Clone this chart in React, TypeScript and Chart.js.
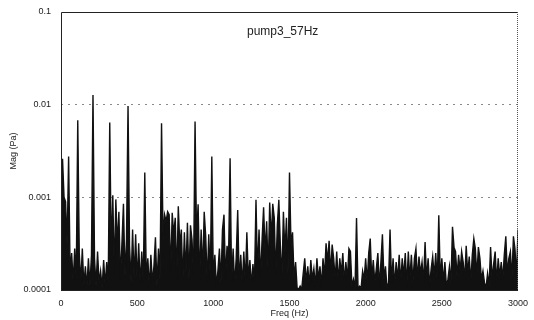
import React, { useEffect, useRef } from "react";
import { Chart, registerables } from "chart.js";

Chart.register(...registerables);

const TITLE = "pump3_57Hz";
const X_TITLE = "Freq (Hz)";
const Y_TITLE = "Mag (Pa)";
const FREQ_BIN_HZ = 10;
const X_TICKS = [0, 500, 1000, 1500, 2000, 2500, 3000];
const Y_TICKS = [0.0001, 0.001, 0.01, 0.1];
const Y_TICK_LABELS = ["0.0001", "0.001", "0.01", "0.1"];
const Y_GRID_DASHED = [0.001, 0.01];

// Magnitude (Pa), one value per 10 Hz bin, 0 .. 3000 Hz
const MAG_PA = [
  // 0-90
  11e-4, 26e-4, 10e-4, 9e-4, 3e-4, 27.5e-4, 1.5e-4, 2.5e-4, 1.2e-4, 2.8e-4,
  // 100-190
  1.3e-4, 68e-4, 2.5e-4, 1.2e-4, 2.8e-4, 1.1e-4, 1.8e-4, 1.05e-4, 2.2e-4, 1.1e-4,
  // 200-290
  2.4e-4, 127e-4, 2.2e-4, 1.1e-4, 2.6e-4, 1.2e-4, 1.6e-4, 1.05e-4, 2.1e-4, 1.1e-4,
  // 300-390
  2.0e-4, 1.2e-4, 64e-4, 2.4e-4, 10.5e-4, 1.5e-4, 9.5e-4, 3e-4, 7e-4, 1.3e-4,
  // 400-490
  3.2e-4, 8.5e-4, 1.4e-4, 3.5e-4, 97e-4, 3.0e-4, 1.2e-4, 4.5e-4, 1.3e-4, 4e-4,
  // 500-590
  1.2e-4, 3.2e-4, 1.1e-4, 2.6e-4, 1.2e-4, 18.5e-4, 1.3e-4, 2.2e-4, 1.05e-4, 2.4e-4,
  // 600-690
  1.2e-4, 1.8e-4, 3.7e-4, 1.1e-4, 2.8e-4, 1.3e-4, 63e-4, 3.5e-4, 6.5e-4, 5.5e-4,
  // 700-790
  7e-4, 6.5e-4, 1.5e-4, 6.8e-4, 4e-4, 6e-4, 1.3e-4, 8e-4, 3e-4, 4.5e-4,
  // 800-890
  1.2e-4, 4.2e-4, 1.5e-4, 5.3e-4, 1.3e-4, 5e-4, 3.5e-4, 1.4e-4, 66e-4, 3.5e-4,
  // 900-990
  8.4e-4, 1.3e-4, 4.5e-4, 1.5e-4, 7e-4, 3.8e-4, 1.2e-4, 4e-4, 1.3e-4, 27.5e-4,
  // 1000-1090
  1.3e-4, 2.4e-4, 1.1e-4, 1.6e-4, 2.8e-4, 1.2e-4, 4.5e-4, 6.5e-4, 1.3e-4, 3e-4,
  // 1100-1190
  2.2e-4, 26.4e-4, 1.2e-4, 2.8e-4, 1.1e-4, 2.2e-4, 7.3e-4, 1.2e-4, 2.4e-4, 1.1e-4,
  // 1200-1290
  2.6e-4, 1.2e-4, 4.2e-4, 1.3e-4, 2.1e-4, 1.1e-4, 1.9e-4, 1.2e-4, 9.4e-4, 1.5e-4,
  // 1300-1390
  4.5e-4, 1.3e-4, 3.5e-4, 7.8e-4, 2.5e-4, 5.5e-4, 1.5e-4, 8.8e-4, 3.5e-4, 8.5e-4,
  // 1400-1490
  6e-4, 1.4e-4, 5e-4, 9.4e-4, 3e-4, 1.3e-4, 7e-4, 2.5e-4, 6e-4, 1.5e-4,
  // 1500-1590
  18.5e-4, 3e-4, 4.2e-4, 1.3e-4, 2e-4, 1.05e-4, 1.02e-4, 1.1e-4, 1.02e-4, 1.5e-4,
  // 1600-1690
  2.2e-4, 1.2e-4, 1.8e-4, 1.1e-4, 2.1e-4, 1.3e-4, 1.7e-4, 1.1e-4, 2.2e-4, 1.3e-4,
  // 1700-1790
  1.8e-4, 1.1e-4, 2.2e-4, 1.4e-4, 3.2e-4, 2e-4, 3.4e-4, 1.5e-4, 3.1e-4, 2.2e-4,
  // 1800-1890
  1.3e-4, 2.6e-4, 1.2e-4, 2.2e-4, 1.5e-4, 2.5e-4, 1.2e-4, 2.0e-4, 1.3e-4, 2.8e-4,
  // 1900-1990
  2.6e-4, 1.1e-4, 1.3e-4, 1.02e-4, 6e-4, 1.02e-4, 1.1e-4, 1.05e-4, 1.6e-4, 1.3e-4,
  // 2000-2090
  2.2e-4, 1.2e-4, 2.5e-4, 3.6e-4, 1.3e-4, 2.1e-4, 1.2e-4, 1.7e-4, 2.5e-4, 1.1e-4,
  // 2100-2190
  2e-4, 4e-4, 1.3e-4, 1.8e-4, 1.05e-4, 1.2e-4, 4.5e-4, 1.2e-4, 2.2e-4, 1.1e-4,
  // 2200-2290
  2e-4, 1.3e-4, 2.4e-4, 1.2e-4, 2.2e-4, 1.4e-4, 2.5e-4, 1.1e-4, 2.6e-4, 1.3e-4,
  // 2300-2390
  2.4e-4, 1.2e-4, 2.2e-4, 2.8e-4, 1.3e-4, 2.3e-4, 1.5e-4, 2e-4, 1.2e-4, 3.3e-4,
  // 2400-2490
  1.3e-4, 2.2e-4, 1.1e-4, 1.7e-4, 2.3e-4, 1.4e-4, 2.5e-4, 1.2e-4, 6.4e-4, 1.3e-4,
  // 2500-2590
  2.2e-4, 1.2e-4, 2e-4, 1.1e-4, 1.3e-4, 1.8e-4, 1.2e-4, 4.8e-4, 2.9e-4, 2.6e-4,
  // 2600-2690
  1.4e-4, 2.4e-4, 1.6e-4, 2.6e-4, 2e-4, 1.3e-4, 3e-4, 1.5e-4, 2.3e-4, 1.2e-4,
  // 2700-2790
  2.4e-4, 3.6e-4, 2.8e-4, 1.4e-4, 2.9e-4, 2.2e-4, 1.3e-4, 1.6e-4, 1.2e-4, 1.05e-4,
  // 2800-2890
  1.5e-4, 1.1e-4, 2.9e-4, 1.3e-4, 1.9e-4, 2.6e-4, 1.2e-4, 2.2e-4, 1.4e-4, 2e-4,
  // 2900-2990
  1.3e-4, 2.4e-4, 3.8e-4, 1.5e-4, 2.2e-4, 2.6e-4, 1.3e-4, 3.8e-4, 2.8e-4, 1.4e-4,
  // 3000
  4.5e-4,
];

const FONT = "'Liberation Sans', Arial, sans-serif";
const TEXT_COLOR = "#222";

const framePlugin = {
  id: "frame",
  afterDatasetsDraw(chart: any) {
    const { ctx, chartArea: a } = chart;
    ctx.save();
    ctx.lineWidth = 1;
    ctx.strokeStyle = "#222";
    ctx.setLineDash([]);
    ctx.beginPath();
    ctx.moveTo(a.left + 0.5, a.bottom);
    ctx.lineTo(a.left + 0.5, a.top + 0.5);
    ctx.lineTo(a.right, a.top + 0.5);
    ctx.moveTo(a.left, a.bottom + 0.5);
    ctx.lineTo(a.right, a.bottom + 0.5);
    ctx.stroke();
    ctx.strokeStyle = "#555";
    ctx.setLineDash([1, 1]);
    ctx.beginPath();
    ctx.moveTo(a.right - 0.5, a.top);
    ctx.lineTo(a.right - 0.5, a.bottom);
    ctx.stroke();
    ctx.restore();
  },
};

const innerTitlePlugin = {
  id: "innerTitle",
  afterDraw(chart: any) {
    const { ctx, chartArea: a } = chart;
    ctx.save();
    ctx.font = `12px ${FONT}`;
    ctx.fillStyle = TEXT_COLOR;
    ctx.textAlign = "center";
    ctx.textBaseline = "middle";
    ctx.fillText(TITLE, a.left + (a.right - a.left) * 0.485, a.top + 20);
    ctx.restore();
  },
};

export default function App() {
  const ref = useRef<HTMLCanvasElement>(null);

  useEffect(() => {
    const points = MAG_PA.map((y, i) => ({ x: i * FREQ_BIN_HZ, y }));
    const chart = new Chart(ref.current as HTMLCanvasElement, {
      type: "line",
      data: {
        datasets: [
          {
            data: points,
            borderColor: "#111",
            backgroundColor: "#111",
            borderWidth: 1.4,
            pointRadius: 0,
            tension: 0,
            fill: "start",
          },
        ],
      },
      options: {
        animation: false,
        responsive: false,
        devicePixelRatio: 1,
        layout: { padding: { top: 12, right: 16, left: 0, bottom: 0 } },
        plugins: {
          legend: { display: false },
          tooltip: { enabled: false },
          title: { display: false },
          filler: { propagate: false },
        },
        scales: {
          x: {
            type: "linear",
            min: 0,
            max: 3000,
            afterBuildTicks: (s: any) => {
              s.ticks = X_TICKS.map((v) => ({ value: v }));
            },
            afterFit: (s: any) => {
              s.height = 30;
              s.paddingLeft = 0;
              s.paddingRight = 0;
            },
            grid: { display: false, drawTicks: false },
            border: { display: false },
            ticks: {
              font: { family: FONT, size: 9 },
              color: TEXT_COLOR,
              padding: 8,
              maxRotation: 0,
              autoSkip: false,
              callback: (v: any) => String(v),
            },
            title: {
              display: true,
              text: X_TITLE,
              font: { family: FONT, size: 9 },
              color: TEXT_COLOR,
              padding: { top: 0, bottom: 1 },
            },
          },
          y: {
            type: "logarithmic",
            min: 0.0001,
            max: 0.1,
            afterBuildTicks: (s: any) => {
              s.ticks = Y_TICKS.map((v) => ({ value: v }));
            },
            afterFit: (s: any) => {
              s.width = 61;
              s.paddingTop = 0;
              s.paddingBottom = 0;
            },
            grid: {
              drawTicks: false,
              color: (c: any) =>
                Y_GRID_DASHED.includes(c.tick && c.tick.value) ? "#8a8a8a" : "rgba(0,0,0,0)",
              lineWidth: 1,
            },
            border: { display: false, dash: [2, 5] },
            ticks: {
              font: { family: FONT, size: 9 },
              color: TEXT_COLOR,
              padding: 10,
              autoSkip: false,
              callback: (_v: any, i: number) => Y_TICK_LABELS[i],
            },
            title: {
              display: true,
              text: Y_TITLE,
              font: { family: FONT, size: 9 },
              color: TEXT_COLOR,
              padding: { top: 8, bottom: 0 },
            },
          },
        },
      },
      plugins: [framePlugin, innerTitlePlugin],
    } as any);
    return () => chart.destroy();
  }, []);

  return (
    <div style={{ position: "absolute", left: 0, top: 0, width: 534, height: 320, background: "#fff" }}>
      <canvas ref={ref} width={534} height={320} />
    </div>
  );
}
